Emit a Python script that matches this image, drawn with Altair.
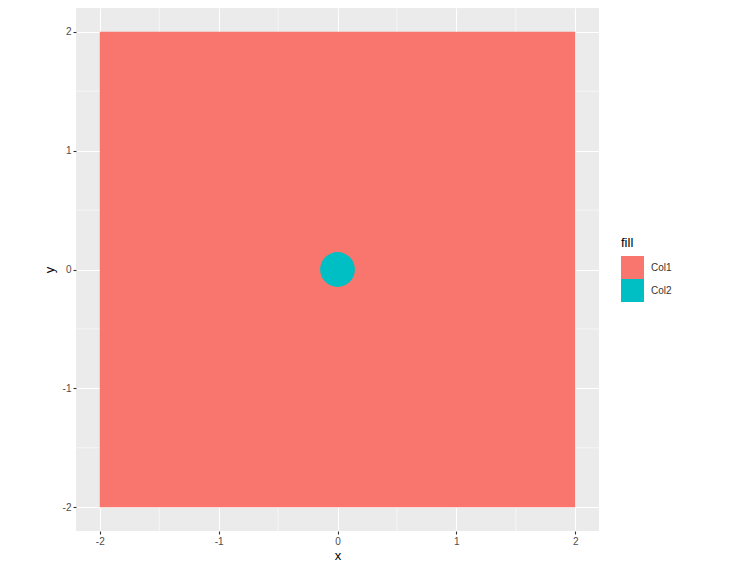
import math
import altair as alt
import pandas as pd

# ---- data ----
rect_x = [-2.0]
rect_x2 = [2.0]
rect_y = [-2.0]
rect_y2 = [2.0]
rect_fill = ["Col1"]

circ_x = [0.0]
circ_y = [0.0]
circ_r = [0.165]          # radius in data units
circ_fill = ["Col2"]

major_breaks = [-2, -1, 0, 1, 2]
minor_breaks = [-1.5, -0.5, 0.5, 1.5]
axis_domain = [-2.2, 2.2]
fill_levels = ["Col1", "Col2"]
fill_colors = ["#F8766D", "#00BFC4"]

W = 523
H = 523
px_per_unit = W / (axis_domain[1] - axis_domain[0])

rect_df = pd.DataFrame({"x": rect_x, "x2": rect_x2, "y": rect_y, "y2": rect_y2, "fill": rect_fill})
circ_df = pd.DataFrame({"x": circ_x, "y": circ_y, "fill": circ_fill})
minor_df = pd.DataFrame({"v": minor_breaks})

xscale = alt.Scale(domain=axis_domain, nice=False, zero=False)
yscale = alt.Scale(domain=axis_domain, nice=False, zero=False)
cscale = alt.Scale(domain=fill_levels, range=fill_colors)

font = "Liberation Sans"
lab_expr = "toString(datum.value)"

xaxis = alt.Axis(values=major_breaks, title="x", grid=True, gridColor="white", gridWidth=1.1,
                 domain=False, tickColor="#333333", tickSize=3, tickWidth=1.1,
                 labelColor="#4D4D4D", labelFontSize=10, labelFont=font, labelPadding=2,
                 titleFont=font, titleFontSize=13, titleFontWeight=400, titleColor="black",
                 titlePadding=3, labelExpr=lab_expr)
yaxis = alt.Axis(values=major_breaks, title="y", grid=True, gridColor="white", gridWidth=1.1,
                 domain=False, tickColor="#333333", tickSize=3, tickWidth=1.1,
                 labelColor="#4D4D4D", labelFontSize=10, labelFont=font, labelPadding=2,
                 titleFont=font, titleFontSize=13, titleFontWeight=400, titleColor="black",
                 titlePadding=6, labelExpr=lab_expr)

vminor = alt.Chart(minor_df).mark_rule(color="white", strokeWidth=0.55).encode(
    x=alt.X("v:Q", scale=xscale, axis=xaxis)
)
hminor = alt.Chart(minor_df).mark_rule(color="white", strokeWidth=0.55).encode(
    y=alt.Y("v:Q", scale=yscale, axis=yaxis)
)

legend = alt.Legend(title="fill", orient="none", legendX=545, legendY=229,
                    symbolType="square", symbolSize=529, symbolStrokeWidth=0,
                    symbolOpacity=1, rowPadding=0, labelOffset=7,
                    titleFontWeight=400, titleFont=font, titleFontSize=13, titleColor="black")

rect = alt.Chart(rect_df).mark_rect(opacity=1, strokeWidth=0).encode(
    x=alt.X("x:Q", scale=xscale, axis=xaxis),
    x2="x2:Q",
    y=alt.Y("y:Q", scale=yscale, axis=yaxis),
    y2="y2:Q",
    color=alt.Color("fill:N", scale=cscale, legend=legend),
)

circ_size = math.pi * (circ_r[0] * px_per_unit) ** 2
circ = alt.Chart(circ_df).mark_point(filled=True, shape="circle", opacity=1, strokeWidth=0,
                                      size=circ_size).encode(
    x=alt.X("x:Q", scale=xscale, axis=xaxis),
    y=alt.Y("y:Q", scale=yscale, axis=yaxis),
    color=alt.Color("fill:N", scale=cscale, legend=legend),
)

chart = alt.layer(vminor, hminor, rect, circ).properties(
    width=W, height=H,
    background="white",
    autosize=alt.AutoSizeParams(type="none"),
    padding={"left": 68, "top": 0, "right": 124, "bottom": 32},
).configure_view(fill="#EBEBEB", stroke=None).configure_legend(
    labelFont=font, labelFontSize=10, labelColor="#333333",
    titleFont=font, titleFontSize=13, titleFontWeight=400, titleColor="black",
    titlePadding=6,
).configure_axis(titleFontWeight=400)

chart.save("out.html", embed_options={"renderer": "svg", "actions": False})
